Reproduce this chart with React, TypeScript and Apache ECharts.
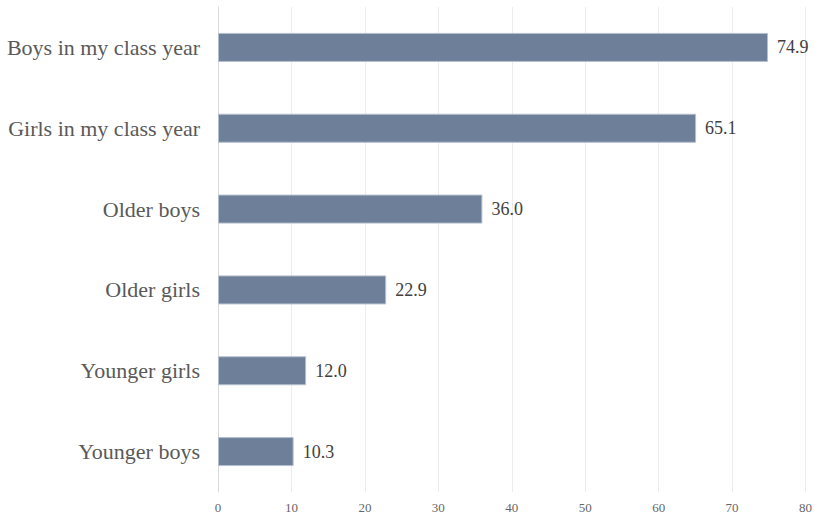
import React, { useEffect, useRef } from "react";
import * as echarts from "echarts";

const categories = [
  "Younger boys",
  "Younger girls",
  "Older girls",
  "Older boys",
  "Girls in my class year",
  "Boys in my class year",
];
const values = [10.3, 12.0, 22.9, 36.0, 65.1, 74.9];
const xTicks = { min: 0, max: 80, interval: 10 };

export default function App() {
  const ref = useRef<HTMLDivElement>(null);
  useEffect(() => {
    if (!ref.current) return;
    const chart = echarts.init(ref.current, null, { renderer: "svg" });
    const font = "'Liberation Serif', 'Times New Roman', serif";
    chart.setOption({
      animation: false,
      grid: { left: 218, right: 8, top: 7, bottom: 26, containLabel: false },
      xAxis: {
        type: "value",
        min: xTicks.min,
        max: xTicks.max,
        interval: xTicks.interval,
        axisLine: { show: false },
        axisTick: { show: false },
        splitLine: { show: true, lineStyle: { color: "#ececec", width: 1 } },
        axisLabel: { color: "#666666", fontFamily: font, fontSize: 13, margin: 9 },
      },
      yAxis: {
        type: "category",
        data: categories,
        axisLine: { show: true, lineStyle: { color: "#d9d9d9", width: 1 } },
        axisTick: { show: false },
        axisLabel: { color: "#595959", fontFamily: font, fontSize: 22, margin: 18 },
      },
      series: [
        {
          type: "bar",
          data: values,
          barWidth: 29,
          itemStyle: { color: "#6e7f99", borderColor: "#b4bfcd", borderWidth: 1 },
          label: {
            show: true,
            position: "right",
            distance: 9,
            formatter: (p: any) => Number(p.value).toFixed(1),
            color: "#404040",
            fontFamily: font,
            fontSize: 18,
          },
        },
      ],
    });
    return () => chart.dispose();
  }, []);
  return <div ref={ref} style={{ width: 815, height: 518, position: "absolute", left: 0, top: 0 }} />;
}
